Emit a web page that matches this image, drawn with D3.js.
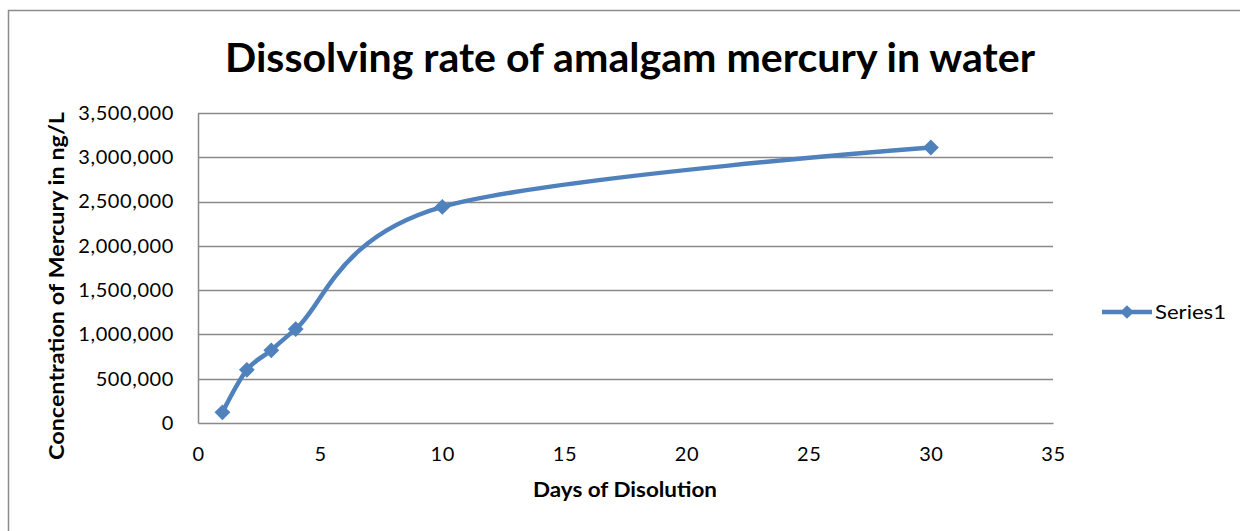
<!DOCTYPE html>
<meta charset="utf-8">
<style>
    body { margin: 0; background: #ffffff; }
    svg { display: block; font-family: Lato, "Open Sans", sans-serif; }
</style>

<script src="https://d3js.org/d3.v7.min.js"></script>

<svg id="chart" width="1240" height="531"></svg>

<script>

// Data

var days = [1, 2, 3, 4, 10, 30];
var concentration = [120000, 600000, 820000, 1060000, 2440000, 3110000];
var xTicks = [0, 5, 10, 15, 20, 25, 30, 35];
var yTicks = [0, 500000, 1000000, 1500000, 2000000, 2500000, 3000000, 3500000];
var seriesName = 'Series1';

// Setup

var svg = d3.select('svg#chart');
var plot = { left: 198, right: 1053, top: 113, bottom: 423 };
var blue = '#4f81bd';
var gridColor = '#898989';

var x = d3.scaleLinear().domain([0, 35]).range([plot.left, plot.right]);
var y = d3.scaleLinear().domain([0, 3500000]).range([plot.bottom, plot.top]);

// Outer chart border (right/bottom edges run off the picture)
svg.append('rect')
    .attr('x', 8.5).attr('y', 10.5)
    .attr('width', 1260).attr('height', 560)
    .attr('fill', 'none')
    .attr('stroke', '#8c8c8c')
    .attr('stroke-width', 1.5);

// Title
svg.append('text')
    .attr('x', 630).attr('y', 72)
    .attr('text-anchor', 'middle')
    .attr('font-size', 40)
    .attr('font-weight', 'bold')
    .attr('textLength', 810)
    .attr('lengthAdjust', 'spacingAndGlyphs')
    .text('Dissolving rate of amalgam mercury in water');

// Gridlines
svg.append('g')
    .selectAll('line')
    .data(yTicks.slice(1))
    .join('line')
    .attr('x1', plot.left).attr('x2', plot.right)
    .attr('y1', function(d) { return Math.round(y(d)) + 0.5; })
    .attr('y2', function(d) { return Math.round(y(d)) + 0.5; })
    .attr('stroke', gridColor)
    .attr('stroke-width', 1.5);

// Axes
var yAxis = d3.axisLeft(y)
    .tickValues(yTicks)
    .tickSize(0)
    .tickPadding(24)
    .tickFormat(d3.format(','));

var xAxis = d3.axisBottom(x)
    .tickValues(xTicks)
    .tickSize(0)
    .tickPadding(38)
    .tickFormat(d3.format('d'));

var gy = svg.append('g')
    .attr('transform', 'translate(' + plot.left + ',0)')
    .call(yAxis);

var gx = svg.append('g')
    .attr('transform', 'translate(0,' + plot.bottom + ')')
    .call(xAxis);

[gx, gy].forEach(function(g) {
    g.select('.domain').attr('stroke', gridColor).attr('stroke-width', 1.5);
    g.selectAll('text')
        .attr('font-family', 'Lato, "Open Sans", sans-serif')
        .attr('font-size', 20)
        .attr('letter-spacing', 0.6)
        .attr('fill', '#000');
});
gx.selectAll('text').attr('dy', 0);

// Axis titles
svg.append('text')
    .attr('x', 625).attr('y', 497)
    .attr('text-anchor', 'middle')
    .attr('font-size', 20)
    .attr('font-weight', 'bold')
    .attr('textLength', 184)
    .attr('lengthAdjust', 'spacingAndGlyphs')
    .text('Days of Disolution');

svg.append('text')
    .attr('transform', 'translate(64,286) rotate(-90)')
    .attr('text-anchor', 'middle')
    .attr('font-size', 20)
    .attr('font-weight', 'bold')
    .attr('textLength', 348)
    .attr('lengthAdjust', 'spacingAndGlyphs')
    .text('Concentration of Mercury in ng/L');

// Series
var points = days.map(function(d, i) { return [d, concentration[i]]; });

var lineFn = d3.line()
    .curve(d3.curveCatmullRom.alpha(0))
    .x(function(d) { return x(d[0]); })
    .y(function(d) { return y(d[1]); });

svg.append('path')
    .attr('d', lineFn(points))
    .attr('fill', 'none')
    .attr('stroke', blue)
    .attr('stroke-width', 4.5)
    .attr('stroke-linejoin', 'round');

var diamond = d3.symbol().type(d3.symbolDiamond2).size(160);

svg.append('g')
    .selectAll('path')
    .data(points)
    .join('path')
    .attr('d', diamond)
    .attr('transform', function(d) { return 'translate(' + x(d[0]) + ',' + y(d[1]) + ')'; })
    .attr('fill', blue);

// Legend
var legend = svg.append('g').attr('transform', 'translate(1102,312)');

legend.append('line')
    .attr('x1', 0).attr('x2', 50)
    .attr('stroke', blue)
    .attr('stroke-width', 4.5);

legend.append('path')
    .attr('d', d3.symbol().type(d3.symbolDiamond2).size(120))
    .attr('transform', 'translate(25,0)')
    .attr('fill', blue);

legend.append('text')
    .attr('x', 53).attr('y', 7)
    .attr('font-size', 20)
    .attr('textLength', 71)
    .attr('lengthAdjust', 'spacingAndGlyphs')
    .text(seriesName);

</script>
